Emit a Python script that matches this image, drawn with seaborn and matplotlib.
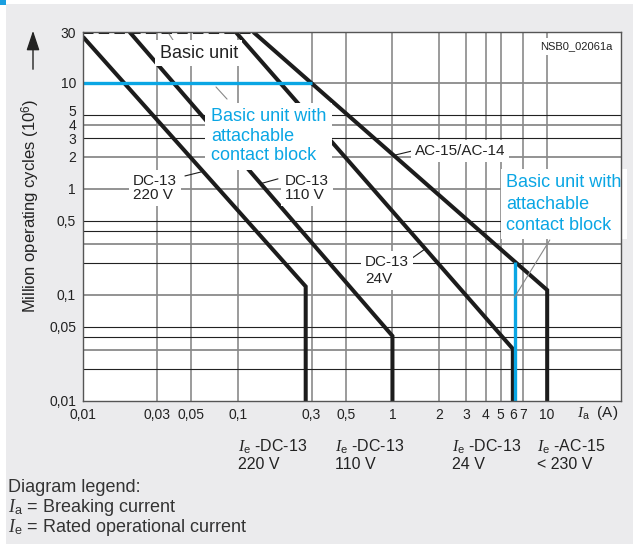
import pandas as pd
import matplotlib
matplotlib.use("Agg")
import matplotlib.pyplot as plt
import matplotlib.transforms as mtransforms
from matplotlib.patches import Rectangle, FancyArrowPatch
import seaborn as sns

# Breaking current Ia (A) vs. million operating cycles
dc220_current = [0.01, 0.275, 0.275]
dc220_cycles = [27, 0.12, 0.01]
dc110_current = [0.02, 1.0, 1.0]
dc110_cycles = [30, 0.041, 0.01]
dc24_current = [0.097, 6.0, 6.0]
dc24_cycles = [30, 0.031, 0.01]
ac15_current = [0.126, 10, 10]
ac15_cycles = [30, 0.111, 0.01]

# mechanical limits
basic_current = [0.01, 0.126]
basic_cycles = [30, 30]
block_h_current = [0.01, 0.3]
block_h_cycles = [10, 10]
block_v_current = [6.15, 6.15]
block_v_cycles = [0.205, 0.01]

x_ticks = [0.01, 0.03, 0.05, 0.1, 0.3, 0.5, 1, 2, 3, 4, 5, 6, 7, 10]
x_labels = ["0,01", "0,03", "0,05", "0,1", "0,3", "0,5", "1", "2", "3", "4", "5", "6", "7", "10"]
y_ticks = [0.01, 0.05, 0.1, 0.5, 1, 2, 3, 4, 5, 10, 30]
y_labels = ["0,01", "0,05", "0,1", "0,5", "1", "2", "3", "4", "5", "10", "30"]
x_grid = [0.03, 0.05, 0.1, 0.3, 0.5, 1, 2, 3, 4, 5, 7, 10]
y_grid_dark = [0.02, 0.04, 0.05, 0.2, 0.4, 0.5, 3, 5]
y_grid_gray = [0.03, 0.1, 0.3, 1, 2, 4, 10]

BLUE = "#0aa6e4"
INK = "#1c1c1c"
GRID = "#8a8a8a"

sns.set_theme(style="white")
plt.rcParams["font.family"] = ["Liberation Sans", "DejaVu Sans"]
plt.rcParams["mathtext.fontset"] = "custom"
plt.rcParams["mathtext.it"] = "Liberation Serif:italic"
plt.rcParams["mathtext.rm"] = "Liberation Sans"

fig = plt.figure(figsize=(6.33, 5.44), dpi=100, facecolor="#ebebed")
# white margin strips and the little blue corner square
fig.patches.append(Rectangle((0, 1 - 4 / 544), 1, 4 / 544, transform=fig.transFigure, fc="white", ec="none"))
fig.patches.append(Rectangle((0, 0), 6 / 633, 1, transform=fig.transFigure, fc="white", ec="none"))
fig.patches.append(Rectangle((0, 1 - 5 / 544), 6 / 633, 5 / 544, transform=fig.transFigure, fc="#1a9fe0", ec="none"))

ax = fig.add_axes([83 / 633, 143 / 544, 538 / 633, 369 / 544])
ax.set_facecolor("white")
ax.set_xscale("log")
ax.set_yscale("log")

for v in x_grid:
    ax.axvline(v, color=GRID, lw=1.2, zorder=1)
for v in y_grid_gray:
    ax.axhline(v, color=GRID, lw=1.3, zorder=1)
for v in y_grid_dark:
    ax.axhline(v, color="#222222", lw=0.8, zorder=1)

curves = pd.concat([
    pd.DataFrame({"Ia": dc220_current, "cycles": dc220_cycles, "curve": "DC-13 220 V"}),
    pd.DataFrame({"Ia": dc110_current, "cycles": dc110_cycles, "curve": "DC-13 110 V"}),
    pd.DataFrame({"Ia": dc24_current, "cycles": dc24_cycles, "curve": "DC-13 24 V"}),
    pd.DataFrame({"Ia": ac15_current, "cycles": ac15_cycles, "curve": "AC-15/AC-14"}),
])
sns.lineplot(data=curves, x="Ia", y="cycles", units="curve", estimator=None, sort=False,
             color=INK, lw=2.9, solid_joinstyle="miter", solid_capstyle="butt", zorder=3, ax=ax)

sns.lineplot(x=basic_current, y=basic_cycles, color=INK, lw=2.9, estimator=None, sort=False, zorder=3, ax=ax)
ax.lines[-1].set_dashes([2.6, 1.3])
sns.lineplot(x=block_h_current, y=block_h_cycles, color=BLUE, lw=2.4, estimator=None, sort=False,
             solid_capstyle="butt", zorder=3.2, ax=ax)
sns.lineplot(x=block_v_current, y=block_v_cycles, color=BLUE, lw=2.4, estimator=None, sort=False,
             solid_capstyle="butt", zorder=3.2, ax=ax)

ax.set_xlim(0.01, 30)
ax.set_ylim(0.01, 30)
ax.set_xticks(x_ticks)
ax.set_xticklabels(x_labels)
ax.set_yticks(y_ticks)
ax.set_yticklabels(y_labels)
ax.minorticks_off()
ax.tick_params(length=0, labelsize=10, colors="#222222", pad=5)
# the 5 / 4 / 3 labels sit tightly stacked in the original, nudge the 5 up
for lab in ax.get_yticklabels():
    if lab.get_text() == "5":
        lab.set_transform(lab.get_transform() + mtransforms.ScaledTranslation(0, 4 / 100, fig.dpi_scale_trans))
for s in ax.spines.values():
    s.set_color("#555555")
    s.set_linewidth(1.0)
    s.set_zorder(6)
ax.set_xlabel("")
ax.set_ylabel("Million operating cycles (10$^{6}$)", fontsize=12, color="#222222")
ax.yaxis.set_label_coords(-0.077, 0.528)
fig.patches.append(FancyArrowPatch(
    (33 / 633, 1 - 72 / 544), (33 / 633, 1 - 28 / 544), transform=fig.transFigure,
    arrowstyle="-|>,head_length=12,head_width=4", color="#222222", lw=1.0))

box = dict(boxstyle="square,pad=0.25", fc="white", ec="none")
txt = dict(color="#222222", zorder=4)

# labels inside the plot
ax.text(0.056, 19, "Basic unit", fontsize=13, ha="center", va="center", bbox=box, **txt)
ax.plot([0.036, 0.0393], [28.7, 23.6], color="#888888", lw=0.8, zorder=3.5)

ax.text(0.067, 3.14, "Basic unit with\nattachable\ncontact block", fontsize=13, color=BLUE,
        ha="left", va="center", linespacing=1.2, zorder=5,
        bbox=dict(boxstyle="square,pad=0.3", fc="white", ec="none"))
ax.plot([0.0724, 0.0853], [9.1, 7.0], color="#888888", lw=0.8, zorder=3.5)

ax.text(1.40, 2.27, "AC-15/AC-14", fontsize=11, ha="left", va="center", bbox=box, **txt)
ax.plot([1.03, 1.34], [2.07, 2.27], color=INK, lw=0.8, zorder=3.5)

ax.text(0.021, 1.02, "DC-13\n220 V", fontsize=11, ha="left", va="center", linespacing=1.05, bbox=box, **txt)
ax.plot([0.0456, 0.058], [1.32, 1.44], color=INK, lw=0.8, zorder=3.5)

ax.text(0.202, 1.02, "DC-13\n110 V", fontsize=11, ha="left", va="center", linespacing=1.05, bbox=box, **txt)
ax.plot([0.1416, 0.182], [1.12, 1.24], color=INK, lw=0.8, zorder=3.5)

ax.text(0.665, 0.17, "DC-13\n24V", fontsize=11, ha="left", va="center", linespacing=1.3, bbox=box, **txt)
ax.plot([1.34, 1.62], [0.222, 0.27], color=INK, lw=0.8, zorder=3.5)

ax.text(5.42, 0.718, "Basic unit with\nattachable\ncontact block", fontsize=13, color=BLUE,
        ha="left", va="center", linespacing=1.32, zorder=5,
        bbox=dict(boxstyle="square,pad=0.3", fc="white", ec="none"))
ax.plot([10.4, 6.15], [0.329, 0.095], color="#888888", lw=0.8, zorder=3.5)

ax.text(0.985, 0.975, "NSB0_02061a", fontsize=8, ha="right", va="top", transform=ax.transAxes,
        bbox=dict(boxstyle="square,pad=0.3", fc="white", ec="none"), **txt)

# axis quantity and rated currents under the axis
ax.text(0.918, -0.033, r"$\mathit{I}_{\mathrm{a}}$  (A)", fontsize=11, ha="left", va="center",
        transform=ax.transAxes, color="#222222")
rated = [(0.288, "-DC-13\n220 V"), (0.468, "-DC-13\n110 V"), (0.686, "-DC-13\n24 V"), (0.844, "-AC-15\n< 230 V")]
for xpos, lab in rated:
    first, second = lab.split("\n")
    ax.text(xpos, -0.145, r"$\mathit{I}_{\mathrm{e}}$ " + first + "\n" + second, fontsize=11.5,
            ha="left", va="center", linespacing=1.1, transform=ax.transAxes, color="#222222")

# diagram legend
fig.text(8 / 633, 1 - 487 / 544, "Diagram legend:", fontsize=13, va="center", color="#333333")
fig.text(8 / 633, 1 - 508 / 544, r"$\mathit{I}_{\mathrm{a}}$ = Breaking current", fontsize=13, va="center", color="#333333")
fig.text(8 / 633, 1 - 528 / 544, r"$\mathit{I}_{\mathrm{e}}$ = Rated operational current", fontsize=13, va="center", color="#333333")

fig.savefig("out.png", dpi=100, facecolor=fig.get_facecolor())
